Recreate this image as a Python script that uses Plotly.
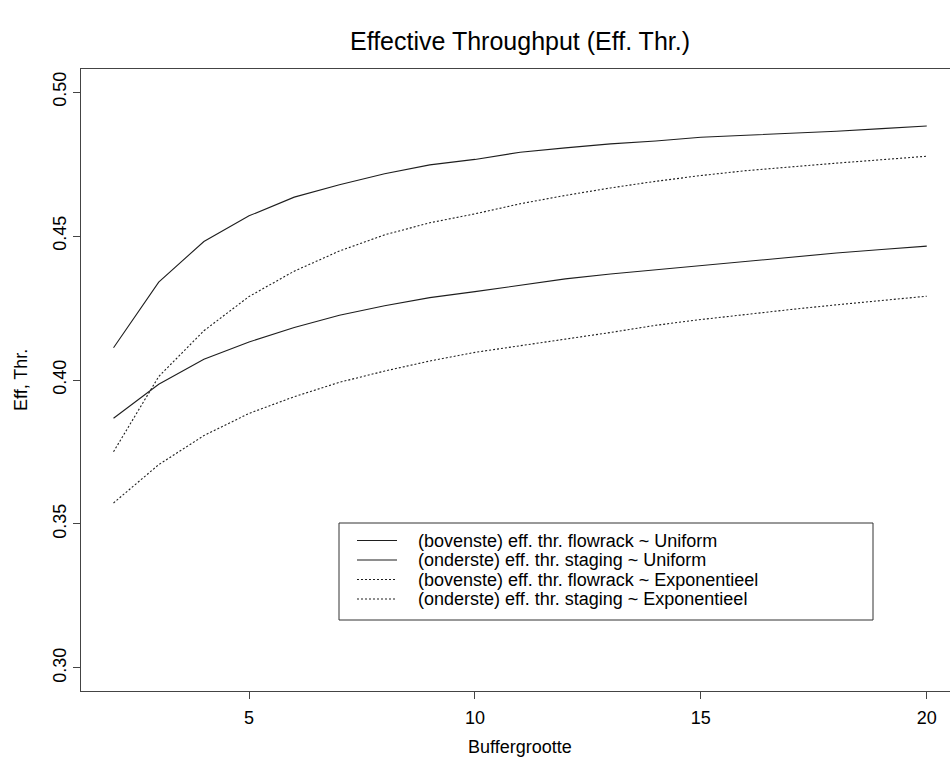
import plotly.graph_objects as go

# ---- data ----
buffer_size = list(range(2, 21))
flowrack_uniform = [0.4112, 0.4340, 0.4481, 0.4570, 0.4635, 0.4678, 0.4716, 0.4747, 0.4766,
                    0.4791, 0.4806, 0.4820, 0.4830, 0.4843, 0.4850, 0.4856, 0.4864, 0.4873, 0.4882]
staging_uniform = [0.3867, 0.3985, 0.4072, 0.4132, 0.4182, 0.4225, 0.4258, 0.4286, 0.4307,
                   0.4330, 0.4351, 0.4368, 0.4383, 0.4398, 0.4413, 0.4428, 0.4441, 0.4453, 0.4465]
flowrack_exp = [0.3751, 0.4012, 0.4171, 0.4290, 0.4378, 0.4448, 0.4504, 0.4546, 0.4577,
                0.4612, 0.4641, 0.4667, 0.4690, 0.4710, 0.4727, 0.4741, 0.4753, 0.4765, 0.4777]
staging_exp = [0.3573, 0.3706, 0.3807, 0.3884, 0.3942, 0.3992, 0.4031, 0.4066, 0.4096,
               0.4118, 0.4142, 0.4165, 0.4190, 0.4210, 0.4228, 0.4245, 0.4261, 0.4276, 0.4291]

series_names = [
    "(bovenste) eff. thr. flowrack ~ Uniform",
    "(onderste) eff. thr. staging ~ Uniform",
    "(bovenste) eff. thr. flowrack ~ Exponentieel",
    "(onderste) eff. thr. staging ~ Exponentieel",
]
series_values = [flowrack_uniform, staging_uniform, flowrack_exp, staging_exp]
series_dash = ["solid", "solid", "2px,2px", "2px,2px"]

x_ticks = [5, 10, 15, 20]
y_ticks = [0.30, 0.35, 0.40, 0.45, 0.50]

title_text = "Effective Throughput (Eff. Thr.)"
x_title = "Buffergrootte"
y_title = "Eff, Thr."

# ---- layout geometry (pixels) ----
W, H = 950, 761
ML, MR, MT, MB = 81, 0, 69, 70
PW, PH = W - ML - MR, H - MT - MB


def px(xp):
    return (xp - ML) / PW


def py(yp):
    return (MT + PH - yp) / PH


FONT = "Liberation Sans, Arial, Helvetica, sans-serif"
LINE_COLOR = "#1e1e1e"

fig = go.Figure()
for name, vals, dash in zip(series_names, series_values, series_dash):
    fig.add_trace(go.Scatter(
        x=buffer_size, y=vals, mode="lines", name=name,
        line=dict(color=LINE_COLOR, width=1.1, dash=dash),
        showlegend=False,
    ))

# manual legend (R-style box)
shapes = [dict(type="rect", xref="paper", yref="paper",
               x0=px(339), x1=px(873), y0=py(620), y1=py(523),
               line=dict(color="#333", width=1), fillcolor="rgba(0,0,0,0)")]
annotations = []
row_y = [540.5, 560, 579.5, 599]
for name, dash, ry in zip(series_names, series_dash, row_y):
    shapes.append(dict(type="line", xref="paper", yref="paper",
                       x0=px(357), x1=px(397), y0=py(ry), y1=py(ry),
                       line=dict(color=LINE_COLOR, width=1, dash=dash)))
    annotations.append(dict(text=name, xref="paper", yref="paper",
                            x=px(417), y=py(ry), xanchor="left", yanchor="middle",
                            showarrow=False, borderpad=0,
                            font=dict(size=18, color="#000", family=FONT)))

annotations.append(dict(text=title_text, xref="x", yref="paper", x=11, y=py(41),
                        xanchor="center", yanchor="middle", showarrow=False,
                        font=dict(size=25, color="#000", family=FONT)))
annotations.append(dict(text=x_title, xref="x", yref="paper", x=11, y=py(747),
                        xanchor="center", yanchor="middle", showarrow=False,
                        font=dict(size=18, color="#000", family=FONT)))
annotations.append(dict(text=y_title, xref="paper", yref="paper", x=px(21), y=py(380),
                        xanchor="center", yanchor="middle", showarrow=False, textangle=-90,
                        font=dict(size=18, color="#000", family=FONT)))

fig.update_layout(
    width=W, height=H,
    margin=dict(l=ML, r=MR, t=MT, b=MB, pad=0),
    paper_bgcolor="white", plot_bgcolor="white",
    font=dict(family=FONT, size=18, color="#000"),
    showlegend=False,
    shapes=shapes, annotations=annotations,
    xaxis=dict(range=[1.28, 1.28 + PW / 45.18], tickvals=x_ticks,
               ticktext=[str(v) for v in x_ticks],
               showgrid=False, zeroline=False, showline=True, mirror=True,
               linecolor="#444", linewidth=1, ticks="outside", ticklen=7,
               tickcolor="#444", tickfont=dict(size=18), ticklabelstandoff=3),
    yaxis=dict(range=[0.292, 0.508], tickvals=y_ticks,
               ticktext=[f"{v:.2f}" for v in y_ticks], tickangle=-90,
               showgrid=False, zeroline=False, showline=True, mirror=False,
               linecolor="#444", linewidth=1, ticks="outside", ticklen=7,
               tickcolor="#444", tickfont=dict(size=18)),
)

fig.write_html("out.html")
